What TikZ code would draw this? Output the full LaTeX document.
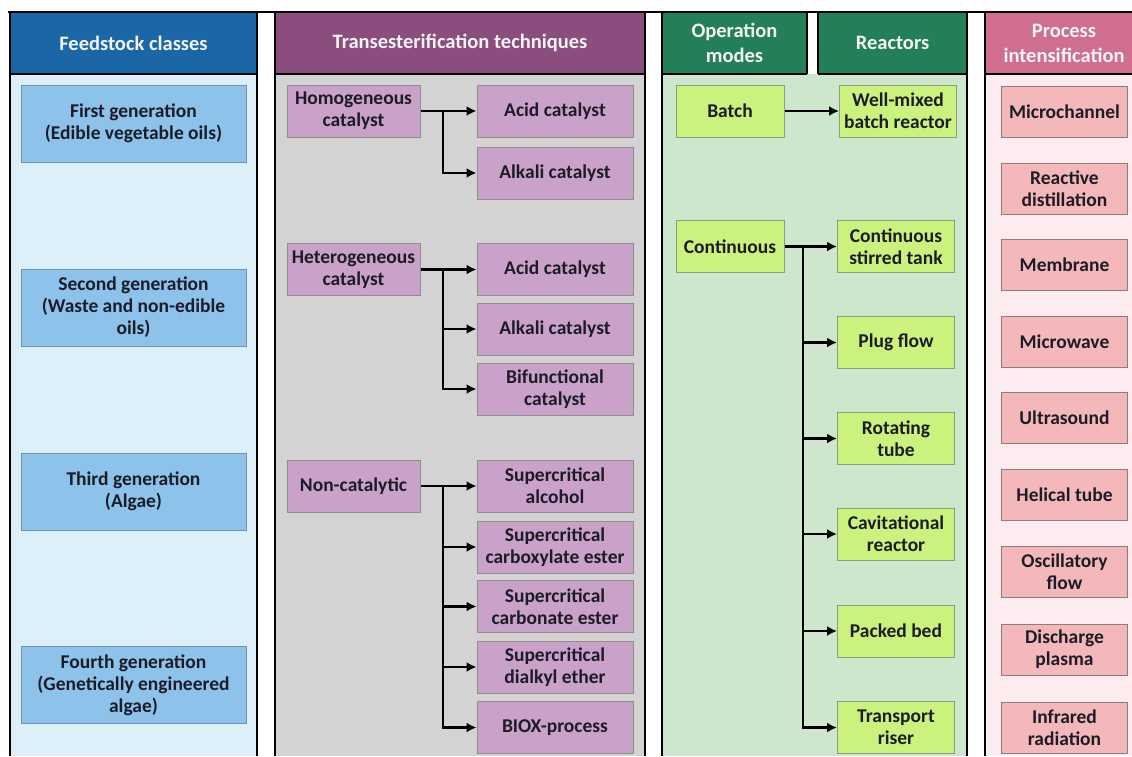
\documentclass[tikz,border=0pt]{standalone}
\usepackage{fontspec}
\setmainfont{Carlito}
\usetikzlibrary{arrows.meta}
\definecolor{bhead}{HTML}{1A66A6}
\definecolor{bbody}{HTML}{DDEFF8}
\definecolor{bbox}{HTML}{8DC3EB}
\definecolor{bline}{HTML}{7092AE}
\definecolor{phead}{HTML}{8A4D7E}
\definecolor{pbody}{HTML}{D3D3D3}
\definecolor{pbox}{HTML}{C9A1C9}
\definecolor{pline}{HTML}{8E8E8E}
\definecolor{ghead}{HTML}{237F57}
\definecolor{gbody}{HTML}{CDE6CC}
\definecolor{gbox}{HTML}{CBF27D}
\definecolor{gline}{HTML}{8C9C80}
\definecolor{rhead}{HTML}{D06E8E}
\definecolor{rbody}{HTML}{FCEBEF}
\definecolor{rbox}{HTML}{F4B8BA}
\definecolor{rline}{HTML}{8E7C7C}
\definecolor{txt}{HTML}{1C1C28}
\definecolor{htxt}{HTML}{F4F4F4}
\begin{document}
\begin{tikzpicture}[x=1pt,y=-1pt,
  basebox/.style={align=center,inner sep=1pt,line width=1pt,text=txt,
    font=\fontsize{19.5}{22}\selectfont\bfseries},
  fbox/.style={basebox,fill=bbox,draw=bline,minimum width=225,minimum height=77},
  tleft/.style={basebox,fill=pbox,draw=pline,minimum width=133,minimum height=52},
  tright/.style={basebox,fill=pbox,draw=pline,minimum width=156,minimum height=52},
  gleft/.style={basebox,fill=gbox,draw=gline,minimum width=108,minimum height=52},
  gright/.style={basebox,fill=gbox,draw=gline,minimum width=117,minimum height=52},
  rbox/.style={basebox,fill=rbox,draw=rline,minimum width=126,minimum height=51},
  htext/.style={align=center,inner sep=0pt,text=htxt,
    font=\fontsize{20.5}{25}\selectfont\bfseries},
  frame/.style={line width=2pt,draw=black},
  conn/.style={line width=2.2pt,draw=black},
  arr/.style={conn,-{Latex[length=10pt,width=10pt]}}]
\useasboundingbox (0,0) rectangle (1132,756);
\fill[white] (0,0) rectangle (1132,756);
% panel fills
\fill[bbody] (10,74) rectangle (257,756);
\fill[bhead] (10,12) rectangle (257,74);
\fill[pbody] (275,74) rectangle (645,756);
\fill[phead] (275,12) rectangle (645,74);
\fill[gbody] (662,74) rectangle (967,756);
\fill[ghead] (662,12) rectangle (807,74);
\fill[ghead] (818,12) rectangle (967,74);
\fill[rbody] (985,74) rectangle (1132,756);
\fill[rhead] (985,12) rectangle (1132,74);
% frames
\foreach \xx in {10,257,275,645,662,967,985}
  \draw[frame] (\xx,12) -- (\xx,756);
\draw[frame] (807,12) -- (807,74);
\draw[frame] (818,12) -- (818,74);
\draw[frame] (10,74) -- (257,74);
\draw[frame] (275,74) -- (645,74);
\draw[frame] (662,74) -- (807,74);
\draw[frame] (818,74) -- (967,74);
\draw[frame] (985,74) -- (1132,74);
\draw[line width=2.5pt] (8,12) -- (1132,12);
% headers
\node[htext] (h1) at (133.5,43) {Feedstock classes};
\node[htext] (h2) at (460,43) {Transesterification techniques};
\node[htext] (h3a) at (734.5,43) {Operation\\modes};
\node[htext] (h3b) at (892.5,43) {Reactors};
\node[htext] (h4) at (1064,43) {Process\\intensification};
% feedstock
\node[fbox] (f1) at (133.5,123.5) {First generation\\(Edible vegetable oils)};
\node[fbox] (f2) at (133.5,307.5) {Second generation\\(Waste and non-edible\\oils)};
\node[fbox] (f3) at (133.5,491.5) {Third generation\\(Algae)};
\node[fbox] (f4) at (133.5,685) {Fourth generation\\(Genetically engineered\\algae)};
% transesterification
\node[tleft] (hom) at (353.5,111) {Homogeneous\\catalyst};
\node[tright] (ac1) at (555,111) {Acid catalyst};
\node[tright] (al1) at (555,173) {Alkali catalyst};
\node[tleft] (het) at (353.5,269.5) {Heterogeneous\\catalyst};
\node[tright] (ac2) at (555,269.5) {Acid catalyst};
\node[tright] (al2) at (555,329) {Alkali catalyst};
\node[tright] (bif) at (555,389) {Bifunctional\\catalyst};
\node[tleft] (non) at (353.5,486) {Non-catalytic};
\node[tright] (sa) at (555,486) {Supercritical\\alcohol};
\node[tright] (sce) at (555,547) {Supercritical\\carboxylate ester};
\node[tright] (scb) at (555,606.5) {Supercritical\\carbonate ester};
\node[tright] (sde) at (555,667) {Supercritical\\dialkyl ether};
\node[tright] (biox) at (555,727.5) {BIOX-process};
\coordinate (j1) at (443,111);
\coordinate (j2) at (443,269.5);
\coordinate (j3) at (443,486);
\draw[arr] (hom) -- (ac1);
\draw[arr] (j1) |- (al1.west);
\draw[arr] (het) -- (ac2);
\draw[arr] (j2) |- (al2.west);
\draw[arr] (j2) |- (bif.west);
\draw[arr] (non) -- (sa);
\draw[arr] (j3) |- (sce.west);
\draw[arr] (j3) |- (scb.west);
\draw[arr] (j3) |- (sde.west);
\draw[arr] (j3) |- (biox.west);
% operation modes / reactors
\node[gleft] (batch) at (730,111) {Batch};
\node[gright] (wm) at (898,111) {Well-mixed\\batch reactor};
\node[gleft] (cont) at (730,246.5) {Continuous};
\node[gright] (cst) at (896,246.5) {Continuous\\stirred tank};
\node[gright] (plug) at (896,342.5) {Plug flow};
\node[gright] (rot) at (896,438.5) {Rotating\\tube};
\node[gright] (cav) at (896,534) {Cavitational\\reactor};
\node[gright] (pack) at (896,631) {Packed bed};
\node[gright] (riser) at (896,727.5) {Transport\\riser};
\coordinate (j4) at (803,246.5);
\draw[arr] (batch) -- (wm);
\draw[arr] (cont) -- (cst);
\draw[arr] (j4) |- (plug.west);
\draw[arr] (j4) |- (rot.west);
\draw[arr] (j4) |- (cav.west);
\draw[arr] (j4) |- (pack.west);
\draw[arr] (j4) |- (riser.west);
% process intensification
\node[rbox] (p1) at (1064.5,111.5) {Microchannel};
\node[rbox] (p2) at (1064.5,188.5) {Reactive\\distillation};
\node[rbox] (p3) at (1064.5,265) {Membrane};
\node[rbox] (p4) at (1064.5,341.5) {Microwave};
\node[rbox] (p5) at (1064.5,418) {Ultrasound};
\node[rbox] (p6) at (1064.5,495) {Helical tube};
\node[rbox] (p7) at (1064.5,572) {Oscillatory\\flow};
\node[rbox] (p8) at (1064.5,649.5) {Discharge\\plasma};
\node[rbox] (p9) at (1064.5,727.5) {Infrared\\radiation};
\end{tikzpicture}
\end{document}
